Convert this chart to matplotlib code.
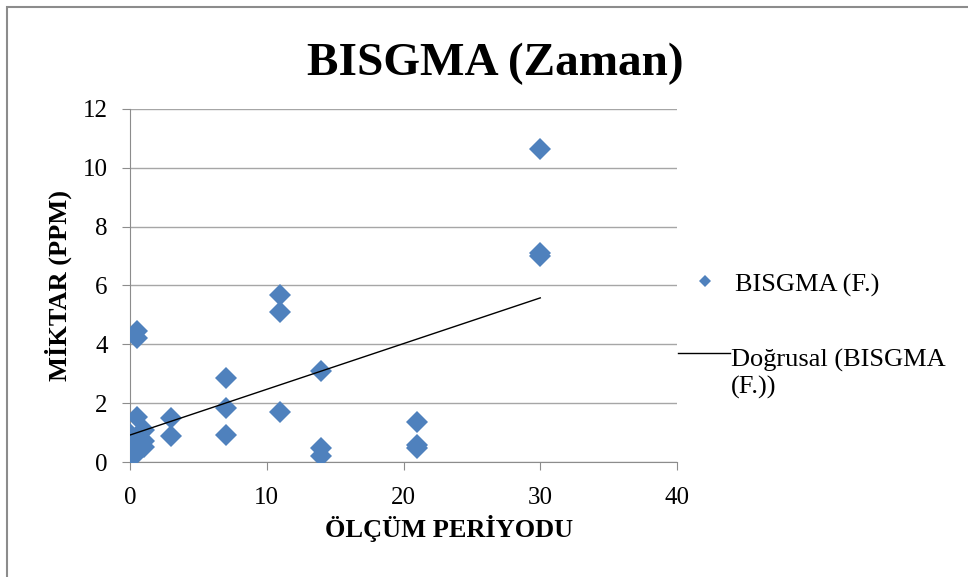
import matplotlib.pyplot as plt
import numpy as np
from matplotlib.lines import Line2D
from matplotlib.patches import Rectangle

# measurement period vs amount (ppm)
period = [0, 0, 0, 0, 0, 0.5, 0.5, 0.5, 0.5, 0.5, 1, 1, 1,
          3, 3, 7, 7, 7, 11, 11, 11, 14, 14, 14, 21, 21, 21, 30, 30, 30]
amount = [0.1, 0.4, 0.6, 0.8, 0.95, 0.3, 0.9, 1.53, 4.2, 4.45, 0.5, 0.7, 1.1,
          1.5, 0.9, 2.86, 1.84, 0.93, 5.68, 5.1, 1.7, 3.1, 0.48, 0.2, 1.36, 0.58, 0.48,
          10.65, 7.1, 7.0]

title = "BISGMA (Zaman)"
xlabel = "ÖLÇÜM PERİYODU"
ylabel = "MİKTAR (PPM)"
series_name = "BISGMA (F.)"
trend_name = "Doğrusal (BISGMA\n(F.))"

plt.rcParams['font.family'] = ['Liberation Serif', 'DejaVu Serif']

W, H = 968, 577
fig = plt.figure(figsize=(W / 100, H / 100), dpi=100)
ax = fig.add_axes([0.1343, 0.1993, 0.5651, 0.6118])

x = np.array(period, dtype=float)
y = np.array(amount, dtype=float)
blue = '#4f81bd'
ax.plot(x, y, 'D', color=blue, markersize=11.5, markeredgewidth=0, zorder=3)

# linear trendline over the data range
k, b = np.polyfit(x, y, 1)
xt = np.array([x.min(), x.max()])
ax.plot(xt, k * xt + b, color='black', linewidth=1, zorder=4)

ax.set_xlim(0, 40)
ax.set_ylim(0, 12)
ax.set_xticks(range(0, 41, 10))
ax.set_yticks(range(0, 13, 2))
ax.yaxis.grid(True, color='#a6a6a6', linewidth=1)
ax.set_axisbelow(True)
for s in ['top', 'right']:
    ax.spines[s].set_visible(False)
for s in ['left', 'bottom']:
    ax.spines[s].set_color('#8c8c8c')
ax.tick_params(axis='both', colors='#8c8c8c', labelcolor='black', labelsize=18,
               length=6, direction='out')
ax.tick_params(axis='y', pad=10)
ax.tick_params(axis='x', pad=12)

fig.text(495 / W, 1 - 75 / H, title, fontsize=34, fontweight='bold',
         ha='center', va='baseline')
ax.set_xlabel(xlabel, fontsize=19, fontweight='bold')
ax.xaxis.set_label_coords(0.583, -0.187)
ax.xaxis.label.set_va('center')
ax.set_ylabel(ylabel, fontsize=19, fontweight='bold', labelpad=8)

# legend drawn by hand so the trendline handle sits on the first text line
fig.add_artist(Line2D([705 / W], [1 - 281 / H], marker='D', linestyle='none',
                      color=blue, markersize=6.5, markeredgewidth=0,
                      transform=fig.transFigure))
fig.text(735 / W, 1 - 292 / H, series_name, fontsize=19, va='baseline')
fig.add_artist(Line2D([678 / W, 730 / W], [1 - 353 / H, 1 - 353 / H],
                      color='black', linewidth=1, transform=fig.transFigure))
fig.text(731 / W, 1 - 394 / H, trend_name, fontsize=19, va='baseline',
         linespacing=1.25)

fig.patches.append(Rectangle((7 / W, -0.1), 1.2, 1 - 7 / H + 0.1,
                             transform=fig.transFigure, fill=False,
                             edgecolor='#8c8c8c', linewidth=1.5))

fig.savefig('out.png', dpi=100)
